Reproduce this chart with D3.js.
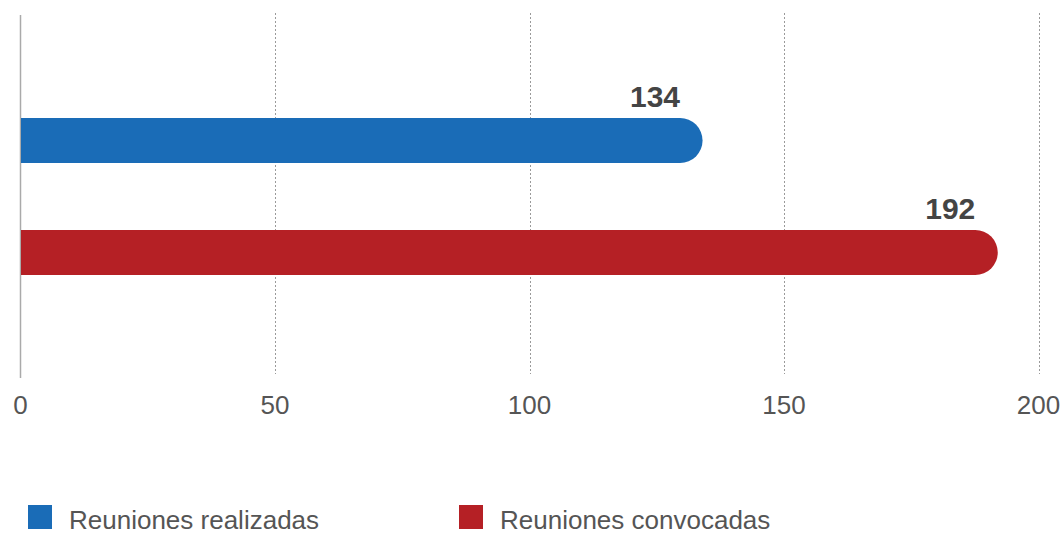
<!DOCTYPE html>
<html>
<head>
<meta charset="utf-8">
<script src="https://cdn.jsdelivr.net/npm/d3@7"></script>
<style>
html,body{margin:0;padding:0;background:#fff;}
svg{display:block;font-family:"Liberation Sans",Arial,Helvetica,sans-serif;}
</style>
</head>
<body>
<svg id="chart" width="1064" height="535"></svg>
<script>
const categories = ["Reuniones realizadas", "Reuniones convocadas"];
const values = [134, 192];
const colors = ["#1a6cb7", "#b52025"];
const tickValues = [0, 50, 100, 150, 200];

const svg = d3.select("#chart");
const x = d3.scaleLinear().domain([0, 200]).range([20.5, 1038.5]);
const y = d3.scaleBand().domain(categories).range([84.5, 308.5]).paddingInner(0.598).paddingOuter(0.299);

// grid
svg.append("g").selectAll("line").data(tickValues.slice(1)).join("line")
  .attr("x1", d => Math.round(x(d)) + 0.5).attr("x2", d => Math.round(x(d)) + 0.5)
  .attr("y1", 13).attr("y2", 374)
  .attr("stroke", "#9a9a9a").attr("stroke-width", 1).attr("stroke-dasharray", "2,2");

// axis line
svg.append("line").attr("x1", x(0)).attr("x2", x(0)).attr("y1", 15).attr("y2", 378)
  .attr("stroke", "#aaa").attr("stroke-width", 1.5);

// tick labels
svg.append("g").selectAll("text").data(tickValues).join("text")
  .attr("x", d => x(d)).attr("y", 414)
  .attr("text-anchor", "middle")
  .attr("font-size", 26).attr("fill", "#555")
  .text(d => d);

// bars
function barPath(x0, x1, y0, h) {
  const r = h / 2;
  return `M${x0},${y0} H${x1 - r} A${r},${r} 0 0 1 ${x1 - r},${y0 + h} H${x0} Z`;
}
svg.append("g").selectAll("path").data(values).join("path")
  .attr("d", (d, i) => barPath(x(0) + 0.5, x(d), y(categories[i]), y.bandwidth()))
  .attr("fill", (d, i) => colors[i]);

// value labels
svg.append("g").selectAll("text").data(values).join("text")
  .attr("x", d => x(d) - y.bandwidth() / 2)
  .attr("y", (d, i) => y(categories[i]) - 11)
  .attr("text-anchor", "end")
  .attr("font-size", 30).attr("font-weight", "bold").attr("fill", "#444")
  .text(d => d);

// legend
const legendX = [28, 459];
const lg = svg.append("g").selectAll("g").data(categories).join("g")
  .attr("transform", (d, i) => `translate(${legendX[i]},505)`);
lg.append("rect").attr("width", 24).attr("height", 24).attr("fill", (d, i) => colors[i]);
lg.append("text").attr("x", 41).attr("y", 24).attr("font-size", 26).attr("fill", "#555").text(d => d);
</script>
</body>
</html>
